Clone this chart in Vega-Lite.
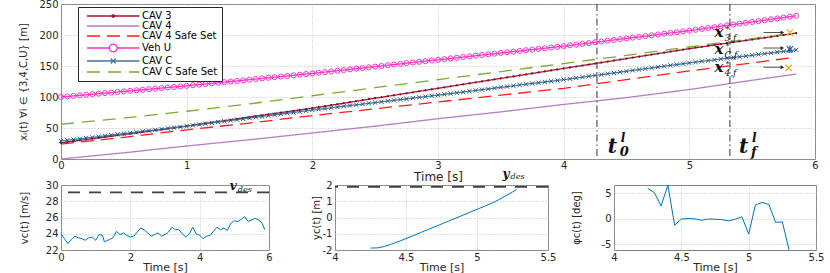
{
"$schema": "https://vega.github.io/schema/vega-lite/v6.json",
"autosize": {"type": "none"},
"padding": {"left": 61, "top": 4, "right": 769, "bottom": 269},
"background": "white",
"config": {
  "view": {"stroke": "#808080", "strokeWidth": 1},
  "axis": {"domain": false, "ticks": false, "grid": true, "gridColor": "#b0b0b0", "gridDash": [1, 2], "gridWidth": 0.8,
    "labelFont": "DejaVu Sans", "labelFontSize": 10, "labelColor": "#262626", "labelFlush": false, "labelOverlap": false, "labelPadding": 3,
    "titleFont": "DejaVu Sans", "titleFontSize": 12, "titleFontWeight": "normal", "titleColor": "#262626"}
},
"datasets": {
  "top": [
{"t":0,"U":100,"C3":26,"CC":29,"A4":0,"S4":24,"SC":56},
{"t":0.05,"U":100.9,"C3":27.4,"CC":30.2},
{"t":0.1,"U":101.8,"C3":28.7,"CC":31.4},
{"t":0.15,"U":102.7,"C3":30.1,"CC":32.6},
{"t":0.2,"U":103.6,"C3":31.4,"CC":33.8},
{"t":0.25,"U":104.5,"C3":32.8,"CC":35},
{"t":0.3,"U":105.4,"C3":34.1,"CC":36.2},
{"t":0.35,"U":106.3,"C3":35.5,"CC":37.4},
{"t":0.4,"U":107.2,"C3":36.8,"CC":38.6},
{"t":0.45,"U":108.1,"C3":38.2,"CC":39.8},
{"t":0.5,"U":109,"C3":39.5,"CC":41,"A4":10,"S4":35,"SC":66},
{"t":0.55,"U":109.9,"C3":40.9,"CC":42.2},
{"t":0.6,"U":110.8,"C3":42.2,"CC":43.4},
{"t":0.65,"U":111.7,"C3":43.6,"CC":44.6},
{"t":0.7,"U":112.6,"C3":44.9,"CC":45.8},
{"t":0.75,"U":113.5,"C3":46.3,"CC":47},
{"t":0.8,"U":114.4,"C3":47.6,"CC":48.2},
{"t":0.85,"U":115.3,"C3":49,"CC":49.4},
{"t":0.9,"U":116.2,"C3":50.3,"CC":50.6},
{"t":0.95,"U":117.1,"C3":51.7,"CC":51.8},
{"t":1,"U":118,"C3":53,"CC":53,"A4":21,"S4":47,"SC":77},
{"t":1.05,"U":119,"C3":54.5,"CC":54.3},
{"t":1.1,"U":120,"C3":55.9,"CC":55.6},
{"t":1.15,"U":121,"C3":57.4,"CC":56.9},
{"t":1.2,"U":122,"C3":58.8,"CC":58.2},
{"t":1.25,"U":123,"C3":60.3,"CC":59.5},
{"t":1.3,"U":124,"C3":61.7,"CC":60.8},
{"t":1.35,"U":125,"C3":63.2,"CC":62.1},
{"t":1.4,"U":126,"C3":64.6,"CC":63.4},
{"t":1.45,"U":127,"C3":66.1,"CC":64.7},
{"t":1.5,"U":128,"C3":67.5,"CC":66,"A4":31,"S4":58,"SC":89},
{"t":1.55,"U":129,"C3":69,"CC":67.3},
{"t":1.6,"U":130,"C3":70.4,"CC":68.6},
{"t":1.65,"U":131,"C3":71.9,"CC":69.9},
{"t":1.7,"U":132,"C3":73.3,"CC":71.2},
{"t":1.75,"U":133,"C3":74.8,"CC":72.5},
{"t":1.8,"U":134,"C3":76.2,"CC":73.8},
{"t":1.85,"U":135,"C3":77.7,"CC":75.1},
{"t":1.9,"U":136,"C3":79.1,"CC":76.4},
{"t":1.95,"U":137,"C3":80.6,"CC":77.7},
{"t":2,"U":138,"C3":82,"CC":79,"A4":42,"S4":70,"SC":102},
{"t":2.05,"U":139.1,"C3":83.6,"CC":80.2},
{"t":2.1,"U":140.2,"C3":85.2,"CC":81.4},
{"t":2.15,"U":141.3,"C3":86.8,"CC":82.6},
{"t":2.2,"U":142.4,"C3":88.4,"CC":83.8},
{"t":2.25,"U":143.5,"C3":90,"CC":85},
{"t":2.3,"U":144.6,"C3":91.6,"CC":86.2},
{"t":2.35,"U":145.7,"C3":93.2,"CC":87.4},
{"t":2.4,"U":146.8,"C3":94.8,"CC":88.6},
{"t":2.45,"U":147.9,"C3":96.4,"CC":89.8},
{"t":2.5,"U":149,"C3":98,"CC":91,"A4":53,"S4":81,"SC":115},
{"t":2.55,"U":150.1,"C3":99.6,"CC":92.2},
{"t":2.6,"U":151.2,"C3":101.2,"CC":93.4},
{"t":2.65,"U":152.3,"C3":102.8,"CC":94.6},
{"t":2.7,"U":153.4,"C3":104.4,"CC":95.8},
{"t":2.75,"U":154.5,"C3":106,"CC":97},
{"t":2.8,"U":155.6,"C3":107.6,"CC":98.2},
{"t":2.85,"U":156.7,"C3":109.2,"CC":99.4},
{"t":2.9,"U":157.8,"C3":110.8,"CC":100.6},
{"t":2.95,"U":158.9,"C3":112.4,"CC":101.8},
{"t":3,"U":160,"C3":114,"CC":103,"A4":65,"S4":92,"SC":128},
{"t":3.05,"U":161.1,"C3":115.6,"CC":104.3},
{"t":3.1,"U":162.2,"C3":117.2,"CC":105.5},
{"t":3.15,"U":163.3,"C3":118.8,"CC":106.8},
{"t":3.2,"U":164.4,"C3":120.4,"CC":108},
{"t":3.25,"U":165.5,"C3":122,"CC":109.3},
{"t":3.3,"U":166.6,"C3":123.6,"CC":110.5},
{"t":3.35,"U":167.7,"C3":125.2,"CC":111.8},
{"t":3.4,"U":168.8,"C3":126.8,"CC":113},
{"t":3.45,"U":169.9,"C3":128.4,"CC":114.3},
{"t":3.5,"U":171,"C3":130,"CC":115.5,"A4":76,"S4":103,"SC":141},
{"t":3.55,"U":172.1,"C3":131.6,"CC":116.8},
{"t":3.6,"U":173.2,"C3":133.2,"CC":118},
{"t":3.65,"U":174.3,"C3":134.8,"CC":119.3},
{"t":3.7,"U":175.4,"C3":136.4,"CC":120.5},
{"t":3.75,"U":176.5,"C3":138,"CC":121.8},
{"t":3.8,"U":177.6,"C3":139.6,"CC":123},
{"t":3.85,"U":178.7,"C3":141.2,"CC":124.3},
{"t":3.9,"U":179.8,"C3":142.8,"CC":125.5},
{"t":3.95,"U":180.9,"C3":144.4,"CC":126.8},
{"t":4,"U":182,"C3":146,"CC":128,"A4":88,"S4":114,"SC":154},
{"t":4.05,"U":183.3,"C3":147.6,"CC":129.4},
{"t":4.1,"U":184.5,"C3":149.2,"CC":130.7},
{"t":4.15,"U":185.8,"C3":150.8,"CC":132.1},
{"t":4.2,"U":187,"C3":152.4,"CC":133.4},
{"t":4.25,"U":188.3,"C3":154,"CC":134.8},
{"t":4.3,"U":189.5,"C3":155.6,"CC":136.1},
{"t":4.35,"U":190.8,"C3":157.2,"CC":137.5},
{"t":4.4,"U":192,"C3":158.8,"CC":138.8},
{"t":4.45,"U":193.3,"C3":160.4,"CC":140.2},
{"t":4.5,"U":194.5,"C3":162,"CC":141.5,"A4":99,"S4":128,"SC":167},
{"t":4.55,"U":195.8,"C3":163.6,"CC":142.9},
{"t":4.6,"U":197,"C3":165.2,"CC":144.2},
{"t":4.65,"U":198.3,"C3":166.8,"CC":145.6},
{"t":4.7,"U":199.5,"C3":168.4,"CC":146.9},
{"t":4.75,"U":200.8,"C3":170,"CC":148.3},
{"t":4.8,"U":202,"C3":171.6,"CC":149.6},
{"t":4.85,"U":203.3,"C3":173.2,"CC":151},
{"t":4.9,"U":204.5,"C3":174.8,"CC":152.3},
{"t":4.95,"U":205.8,"C3":176.4,"CC":153.7},
{"t":5,"U":207,"C3":178,"CC":155,"A4":112,"S4":142,"SC":181},
{"t":5.05,"U":208.4,"C3":179.5,"CC":156.2},
{"t":5.1,"U":209.8,"C3":180.9,"CC":157.5},
{"t":5.15,"U":211.2,"C3":182.4,"CC":158.7},
{"t":5.2,"U":212.6,"C3":183.9,"CC":159.9},
{"t":5.25,"U":214.1,"C3":185.4,"CC":161.2},
{"t":5.3,"U":215.5,"C3":186.8,"CC":162.4},
{"t":5.35,"U":216.9,"C3":188.3,"CC":163.7},
{"t":5.4,"U":218.3,"C3":189.8,"CC":164.9},
{"t":5.45,"U":219.7,"C3":191.2,"CC":166.1},
{"t":5.5,"U":221.1,"C3":192.7,"CC":167.4,"A4":127,"S4":155,"SC":194},
{"t":5.55,"U":222.5,"C3":194.2,"CC":168.6},
{"t":5.6,"U":223.9,"C3":195.6,"CC":169.9},
{"t":5.65,"U":225.3,"C3":197.1,"CC":171.1},
{"t":5.7,"U":226.7,"C3":198.6,"CC":172.3},
{"t":5.75,"U":228.2,"C3":200.1,"CC":173.6},
{"t":5.8,"U":229.6,"C3":201.5,"CC":174.8,"S4":163,"SC":202},
{"t":5.85,"U":231,"C3":203,"CC":176,"A4":137}
  ],
  "vc": [
{"t":0,"v":24.0},{"t":0.1,"v":23.4},{"t":0.2,"v":22.8},{"t":0.3,"v":23.3},{"t":0.4,"v":23.7},{"t":0.5,"v":23.5},
{"t":0.6,"v":23.4},{"t":0.7,"v":23.2},{"t":0.8,"v":23.5},{"t":0.9,"v":23.6},{"t":1.0,"v":23.2},{"t":1.1,"v":23.9},
{"t":1.2,"v":23.8},{"t":1.25,"v":23.0},{"t":1.4,"v":23.3},{"t":1.5,"v":23.5},{"t":1.6,"v":24.3},{"t":1.7,"v":23.9},
{"t":1.8,"v":24.1},{"t":1.9,"v":23.8},{"t":2.0,"v":23.6},{"t":2.1,"v":23.7},{"t":2.2,"v":24.2},{"t":2.3,"v":24.7},
{"t":2.4,"v":24.5},{"t":2.5,"v":24.1},{"t":2.6,"v":23.7},{"t":2.7,"v":23.9},{"t":2.8,"v":24.1},{"t":2.9,"v":23.7},
{"t":3.0,"v":23.9},{"t":3.1,"v":24.2},{"t":3.2,"v":24.8},{"t":3.3,"v":24.5},{"t":3.4,"v":24.5},{"t":3.5,"v":24.0},
{"t":3.6,"v":23.6},{"t":3.7,"v":24.0},{"t":3.8,"v":24.8},{"t":3.9,"v":24.0},{"t":4.0,"v":23.8},{"t":4.1,"v":23.4},
{"t":4.2,"v":23.7},{"t":4.3,"v":23.8},{"t":4.4,"v":24.3},{"t":4.5,"v":24.8},{"t":4.6,"v":24.5},{"t":4.7,"v":24.7},
{"t":4.8,"v":24.4},{"t":4.9,"v":25.3},{"t":5.0,"v":25.6},{"t":5.1,"v":25.5},{"t":5.2,"v":25.8},{"t":5.3,"v":26.1},
{"t":5.4,"v":25.5},{"t":5.5,"v":25.7},{"t":5.6,"v":25.9},{"t":5.7,"v":25.7},{"t":5.8,"v":25.3},{"t":5.88,"v":24.5}
  ],
  "yc": [
{"t":4.25,"y":-1.88},{"t":4.3,"y":-1.87},{"t":4.35,"y":-1.78},{"t":4.4,"y":-1.63},{"t":4.45,"y":-1.47},{"t":4.5,"y":-1.3},
{"t":4.55,"y":-1.12},{"t":4.6,"y":-0.94},{"t":4.65,"y":-0.76},{"t":4.7,"y":-0.58},{"t":4.75,"y":-0.4},{"t":4.8,"y":-0.22},
{"t":4.85,"y":-0.04},{"t":4.9,"y":0.14},{"t":4.95,"y":0.32},{"t":5.0,"y":0.5},{"t":5.05,"y":0.68},{"t":5.1,"y":0.86},
{"t":5.15,"y":1.08},{"t":5.2,"y":1.32},{"t":5.25,"y":1.57},{"t":5.28,"y":1.72}
  ],
  "phi": [
{"t":4.25,"p":5.95},{"t":4.3,"p":5.1},{"t":4.35,"p":2.5},{"t":4.4,"p":6.6},{"t":4.45,"p":-1.24},{"t":4.5,"p":-0.05},
{"t":4.55,"p":0.05},{"t":4.6,"p":0},{"t":4.65,"p":-0.3},{"t":4.7,"p":-0.05},{"t":4.75,"p":-0.1},{"t":4.8,"p":-0.15},
{"t":4.85,"p":-0.4},{"t":4.9,"p":-0.1},{"t":4.95,"p":0.4},{"t":5.0,"p":-3.0},{"t":5.05,"p":2.7},{"t":5.1,"p":3.2},
{"t":5.15,"p":2.8},{"t":5.2,"p":-0.7},{"t":5.25,"p":-0.6},{"t":5.3,"p":-6.1}
  ]
},
"spacing": 26,
"bounds": "flush",
"vconcat": [
{
  "width": 754, "height": 155,
  "resolve": {"axis": {"x": "independent", "y": "independent"}},
  "layer": [
    {
      "data": {"name": "top"},
      "transform": [{"fold": ["C3", "A4", "S4", "U", "CC", "SC"], "as": ["key", "value"]}, {"filter": "isValid(datum.value)"}],
      "mark": {"type": "line", "strokeWidth": 1.3},
      "encoding": {
        "x": {"field": "t", "type": "quantitative", "scale": {"domain": [0, 6], "nice": false},
          "axis": {"title": "Time [s]", "titlePadding": 1, "labelPadding": 1, "values": [0, 1, 2, 3, 4, 5, 6], "labelExpr": "'' + datum.value"}},
        "y": {"field": "value", "type": "quantitative", "scale": {"domain": [0, 250], "nice": false},
          "axis": {"title": "xᵢ(t) ∀i ∈ {3,4,C,U} [m]", "titleFontSize": 10, "titlePadding": 10, "values": [0, 50, 100, 150, 200, 250], "labelExpr": "'' + datum.value"}},
        "color": {"field": "key", "type": "nominal",
          "scale": {"domain": ["C3", "A4", "S4", "U", "CC", "SC"], "range": ["#a2142f", "#b57cc9", "#ff1a1a", "#ff33cc", "#4a77a0", "#77ac30"]},
          "legend": {"title": null, "orient": "none", "legendX": 17, "legendY": 3, "fillColor": "white", "strokeColor": "#262626",
            "padding": 4, "rowPadding": 0, "labelFont": "DejaVu Sans", "labelFontSize": 10, "labelColor": "#000",
            "symbolSize": 49, "symbolStrokeWidth": 1.3, "labelOffset": 50,
            "labelExpr": "datum.label === 'C3' ? 'CAV 3' : datum.label === 'A4' ? 'CAV 4' : datum.label === 'S4' ? 'CAV 4 Safe Set' : datum.label === 'U' ? 'Veh U' : datum.label === 'CC' ? 'CAV C' : 'CAV C Safe Set'",
            "encode": {"symbols": {"update": {"shape": {"signal": "datum.value === 'C3' ? 'M0,0L15,0M7.85,0A0.35,0.35 0 1,1 7.15,0A0.35,0.35 0 1,1 7.85,0' : datum.value === 'U' ? 'M0,0L6.4,0M8.6,0L15,0M8.6,0A1.1,1.1 0 1,1 6.4,0A1.1,1.1 0 1,1 8.6,0' : datum.value === 'CC' ? 'M0,0L15,0M6.8,-0.7L8.2,0.7M6.8,0.7L8.2,-0.7' : 'M0,0L15,0'"}}}}}},
        "strokeDash": {"field": "key", "type": "nominal",
          "scale": {"domain": ["C3", "A4", "S4", "U", "CC", "SC"], "range": [[1, 0], [1, 0], [13, 7], [1, 0], [1, 0], [13, 8]]},
          "legend": {"title": null, "orient": "none", "legendX": 17, "legendY": 3, "fillColor": "white", "strokeColor": "#262626",
            "padding": 4, "rowPadding": 0, "labelFont": "DejaVu Sans", "labelFontSize": 10, "labelColor": "#000",
            "symbolSize": 49, "symbolStrokeWidth": 1.3, "labelOffset": 50,
            "labelExpr": "datum.label === 'C3' ? 'CAV 3' : datum.label === 'A4' ? 'CAV 4' : datum.label === 'S4' ? 'CAV 4 Safe Set' : datum.label === 'U' ? 'Veh U' : datum.label === 'CC' ? 'CAV C' : 'CAV C Safe Set'",
            "encode": {"symbols": {"update": {"shape": {"signal": "datum.value === 'C3' ? 'M0,0L15,0M7.85,0A0.35,0.35 0 1,1 7.15,0A0.35,0.35 0 1,1 7.85,0' : datum.value === 'U' ? 'M0,0L6.4,0M8.6,0L15,0M8.6,0A1.1,1.1 0 1,1 6.4,0A1.1,1.1 0 1,1 8.6,0' : datum.value === 'CC' ? 'M0,0L15,0M6.8,-0.7L8.2,0.7M6.8,0.7L8.2,-0.7' : 'M0,0L15,0'"}}}}}}
      }
    },
    {
      "data": {"name": "top"},
      "mark": {"type": "point", "shape": "circle", "filled": false, "size": 26, "strokeWidth": 1, "color": "#ff33cc", "opacity": 1},
      "encoding": {
        "x": {"field": "t", "type": "quantitative", "axis": {"orient": "top", "title": null, "labels": false, "gridColor": "#cccccc",
          "values": [0,0.1,0.2,0.3,0.4,0.5,0.6,0.7,0.8,0.9,1,1.1,1.2,1.3,1.4,1.5,1.6,1.7,1.8,1.9,2,2.1,2.2,2.3,2.4,2.5,2.6,2.7,2.8,2.9,3,3.1,3.2,3.3,3.4,3.5,3.6,3.7,3.8,3.9,4,4.1,4.2,4.3,4.4,4.5,4.6,4.7,4.8,4.9,5,5.1,5.2,5.3,5.4,5.5,5.6,5.7,5.8,5.9,6]}},
        "y": {"field": "U", "type": "quantitative", "axis": {"orient": "right", "title": null, "labels": false, "gridColor": "#cccccc",
          "values": [0,10,20,30,40,50,60,70,80,90,100,110,120,130,140,150,160,170,180,190,200,210,220,230,240,250]}}
      }
    },
    {
      "data": {"name": "top"},
      "mark": {"type": "point", "shape": "circle", "filled": true, "size": 5, "color": "#7a0f22", "opacity": 1},
      "encoding": {"x": {"field": "t", "type": "quantitative", "axis": null}, "y": {"field": "C3", "type": "quantitative", "axis": null}}
    },
    {
      "data": {"name": "top"},
      "mark": {"type": "point", "shape": "M-1,-1L1,1M-1,1L1,-1", "filled": false, "size": 18, "strokeWidth": 1, "color": "#2e5a85", "opacity": 1},
      "encoding": {"x": {"field": "t", "type": "quantitative", "axis": null}, "y": {"field": "CC", "type": "quantitative", "axis": null}}
    },
    {
      "data": {"values": [{"t": 4.265}, {"t": 5.323}]},
      "mark": {"type": "rule", "color": "#333333", "strokeWidth": 1, "strokeDash": [7, 3, 1.5, 3]},
      "encoding": {"x": {"field": "t", "type": "quantitative", "axis": null}}
    },
    {
      "data": {"values": [{"t": 4.35, "v": 9.7, "s": "t"}, {"t": 5.395, "v": 9.7, "s": "t"}]},
      "mark": {"type": "text", "font": "DejaVu Serif", "fontStyle": "italic", "fontWeight": "bold", "fontSize": 20, "align": "left", "baseline": "alphabetic", "color": "#111"},
      "encoding": {"x": {"field": "t", "type": "quantitative", "axis": null}, "y": {"field": "v", "type": "quantitative", "axis": null}, "text": {"field": "s"}}
    },
    {
      "data": {"values": [{"t": 4.35, "v": 9.7, "s": "l"}, {"t": 5.395, "v": 9.7, "s": "l"}]},
      "mark": {"type": "text", "font": "DejaVu Serif", "fontStyle": "italic", "fontWeight": "bold", "fontSize": 12, "align": "left", "baseline": "alphabetic", "dx": 13, "dy": -11, "color": "#111"},
      "encoding": {"x": {"field": "t", "type": "quantitative", "axis": null}, "y": {"field": "v", "type": "quantitative", "axis": null}, "text": {"field": "s"}}
    },
    {
      "data": {"values": [{"t": 4.35, "v": 9.7, "s": "0"}, {"t": 5.395, "v": 9.7, "s": "f"}]},
      "mark": {"type": "text", "font": "DejaVu Serif", "fontStyle": "italic", "fontWeight": "bold", "fontSize": 13, "align": "left", "baseline": "alphabetic", "dx": 12, "dy": 3, "color": "#111"},
      "encoding": {"x": {"field": "t", "type": "quantitative", "axis": null}, "y": {"field": "v", "type": "quantitative", "axis": null}, "text": {"field": "s"}}
    },
    {
      "data": {"values": [{"t": 5.2, "v": 196.8, "s": "x"}, {"t": 5.2, "v": 169, "s": "x"}, {"t": 5.2, "v": 140, "s": "x"}]},
      "mark": {"type": "text", "font": "DejaVu Serif", "fontStyle": "italic", "fontWeight": "bold", "fontSize": 15, "align": "left", "baseline": "alphabetic", "color": "#111"},
      "encoding": {"x": {"field": "t", "type": "quantitative", "axis": null}, "y": {"field": "v", "type": "quantitative", "axis": null}, "text": {"field": "s"}}
    },
    {
      "data": {"values": [{"t": 5.2, "v": 196.8, "s": "*"}, {"t": 5.2, "v": 169, "s": "*"}, {"t": 5.2, "v": 140, "s": "*"}]},
      "mark": {"type": "text", "font": "DejaVu Serif", "fontSize": 8, "align": "left", "baseline": "alphabetic", "dx": 11, "dy": -5, "color": "#111"},
      "encoding": {"x": {"field": "t", "type": "quantitative", "axis": null}, "y": {"field": "v", "type": "quantitative", "axis": null}, "text": {"field": "s"}}
    },
    {
      "data": {"values": [{"t": 5.2, "v": 196.8, "s": "3,f"}, {"t": 5.2, "v": 169, "s": "C,f"}, {"t": 5.2, "v": 140, "s": "4,f"}]},
      "mark": {"type": "text", "font": "DejaVu Serif", "fontStyle": "italic", "fontSize": 9, "align": "left", "baseline": "alphabetic", "dx": 10, "dy": 4, "color": "#111"},
      "encoding": {"x": {"field": "t", "type": "quantitative", "axis": null}, "y": {"field": "v", "type": "quantitative", "axis": null}, "text": {"field": "s"}}
    },
    {
      "data": {"values": [{"t": 5.59, "t2": 5.74, "v": 204}, {"t": 5.59, "t2": 5.74, "v": 179}, {"t": 5.59, "t2": 5.74, "v": 148}]},
      "mark": {"type": "rule", "color": "#222", "strokeWidth": 0.8},
      "encoding": {"x": {"field": "t", "type": "quantitative", "axis": null}, "x2": {"field": "t2"}, "y": {"field": "v", "type": "quantitative", "axis": null}}
    },
    {
      "data": {"values": [{"t2": 5.74, "v": 204}, {"t2": 5.74, "v": 179}, {"t2": 5.74, "v": 148}]},
      "mark": {"type": "point", "shape": "triangle-right", "filled": true, "size": 16, "color": "#222", "opacity": 1},
      "encoding": {"x": {"field": "t2", "type": "quantitative", "axis": null}, "y": {"field": "v", "type": "quantitative", "axis": null}}
    },
    {
      "data": {"values": [{"t": 5.8, "v": 204}, {"t": 5.79, "v": 147}]},
      "mark": {"type": "point", "shape": "M-1,-1L1,1M-1,1L1,-1", "filled": false, "size": 40, "strokeWidth": 1.3, "color": "#edb120", "opacity": 1},
      "encoding": {"x": {"field": "t", "type": "quantitative", "axis": null}, "y": {"field": "v", "type": "quantitative", "axis": null}}
    },
    {
      "data": {"values": [{"t": 5.8, "v": 177}]},
      "mark": {"type": "point", "shape": "M-1,-1L1,1M-1,1L1,-1M0,-1.2L0,1.2", "filled": false, "size": 40, "strokeWidth": 1.2, "color": "#2a4fd0", "opacity": 1},
      "encoding": {"x": {"field": "t", "type": "quantitative", "axis": null}, "y": {"field": "v", "type": "quantitative", "axis": null}}
    }
  ]
},
{
  "spacing": 66,
  "bounds": "flush",
  "hconcat": [
    {
      "width": 208, "height": 65,
      "resolve": {"axis": {"x": "independent", "y": "independent"}},
      "layer": [
        {
          "data": {"name": "vc"},
          "mark": {"type": "line", "color": "#0072bd", "strokeWidth": 1},
          "encoding": {
            "x": {"field": "t", "type": "quantitative", "scale": {"domain": [0, 6], "nice": false},
              "axis": {"title": "Time [s]", "titleFontSize": 11, "titlePadding": -1, "labelPadding": 2, "values": [0, 2, 4, 6], "labelExpr": "'' + datum.value"}},
            "y": {"field": "v", "type": "quantitative", "scale": {"domain": [22, 30], "nice": false},
              "axis": {"title": "vᴄ(t) [m/s]", "titleFontSize": 10, "titlePadding": 16, "values": [22, 24, 26, 28, 30], "labelExpr": "'' + datum.value"}}
          }
        },
        {
          "data": {"values": [{"v": 29.1}]},
          "mark": {"type": "rule", "color": "#404040", "strokeWidth": 1.8, "strokeDash": [12, 9]},
          "encoding": {"y": {"field": "v", "type": "quantitative", "axis": null}}
        },
        {
          "data": {"values": [{"t": 4.87, "v": 29.38, "s": "v"}]},
          "mark": {"type": "text", "font": "DejaVu Serif", "fontStyle": "italic", "fontWeight": "bold", "fontSize": 12, "align": "left", "baseline": "alphabetic", "color": "#111"},
          "encoding": {
            "x": {"field": "t", "type": "quantitative", "axis": {"orient": "top", "title": null, "labels": false, "gridColor": "#cccccc",
              "values": [0,0.2,0.4,0.6,0.8,1,1.2,1.4,1.6,1.8,2,2.2,2.4,2.6,2.8,3,3.2,3.4,3.6,3.8,4,4.2,4.4,4.6,4.8,5,5.2,5.4,5.6,5.8,6]}},
            "y": {"field": "v", "type": "quantitative", "axis": {"orient": "right", "title": null, "labels": false, "gridColor": "#cccccc",
              "values": [22,22.5,23,23.5,24,24.5,25,25.5,26,26.5,27,27.5,28,28.5,29,29.5,30]}},
            "text": {"field": "s"}}
        },
        {
          "data": {"values": [{"t": 4.87, "v": 29.38, "s": "des"}]},
          "mark": {"type": "text", "font": "DejaVu Serif", "fontStyle": "italic", "fontSize": 8, "align": "left", "baseline": "alphabetic", "dx": 8, "dy": 2, "color": "#111"},
          "encoding": {"x": {"field": "t", "type": "quantitative", "axis": null}, "y": {"field": "v", "type": "quantitative", "axis": null}, "text": {"field": "s"}}
        }
      ]
    },
    {
      "width": 213, "height": 65,
      "resolve": {"axis": {"x": "independent", "y": "independent"}},
      "layer": [
        {
          "data": {"name": "yc"},
          "mark": {"type": "line", "color": "#0072bd", "strokeWidth": 1},
          "encoding": {
            "x": {"field": "t", "type": "quantitative", "scale": {"domain": [4, 5.5], "nice": false},
              "axis": {"title": "Time [s]", "titleFontSize": 11, "titlePadding": -1, "labelPadding": 2, "values": [4, 4.5, 5, 5.5], "labelExpr": "'' + datum.value"}},
            "y": {"field": "y", "type": "quantitative", "scale": {"domain": [-2, 2], "nice": false},
              "axis": {"title": "yᴄ(t) [m]", "titleFontSize": 10, "titlePadding": 1, "values": [-2, -1, 0, 1, 2], "labelExpr": "'' + datum.value"}}
          }
        },
        {
          "data": {"values": [{"y": 1.88}]},
          "mark": {"type": "rule", "color": "#404040", "strokeWidth": 1.8, "strokeDash": [12, 9]},
          "encoding": {"y": {"field": "y", "type": "quantitative", "axis": null}}
        },
        {
          "data": {"values": [{"t": 5.18, "y": 2.45, "s": "y"}]},
          "mark": {"type": "text", "font": "DejaVu Serif", "fontStyle": "italic", "fontWeight": "bold", "fontSize": 12, "align": "left", "baseline": "alphabetic", "color": "#111"},
          "encoding": {
            "x": {"field": "t", "type": "quantitative", "axis": {"orient": "top", "title": null, "labels": false, "gridColor": "#cccccc",
              "values": [4,4.05,4.1,4.15,4.2,4.25,4.3,4.35,4.4,4.45,4.5,4.55,4.6,4.65,4.7,4.75,4.8,4.85,4.9,4.95,5,5.05,5.1,5.15,5.2,5.25,5.3,5.35,5.4,5.45,5.5]}},
            "y": {"field": "y", "type": "quantitative", "axis": {"orient": "right", "title": null, "labels": false, "gridColor": "#cccccc",
              "values": [-2,-1.8,-1.6,-1.4,-1.2,-1,-0.8,-0.6,-0.4,-0.2,0,0.2,0.4,0.6,0.8,1,1.2,1.4,1.6,1.8,2]}},
            "text": {"field": "s"}}
        },
        {
          "data": {"values": [{"t": 5.18, "y": 2.45, "s": "des"}]},
          "mark": {"type": "text", "font": "DejaVu Serif", "fontStyle": "italic", "fontSize": 8, "align": "left", "baseline": "alphabetic", "dx": 8, "dy": 1, "color": "#111"},
          "encoding": {"x": {"field": "t", "type": "quantitative", "axis": null}, "y": {"field": "y", "type": "quantitative", "axis": null}, "text": {"field": "s"}}
        }
      ]
    },
    {
      "width": 202, "height": 65,
      "resolve": {"axis": {"x": "independent", "y": "independent"}},
      "layer": [
        {
          "data": {"name": "phi"},
          "mark": {"type": "line", "color": "#0072bd", "strokeWidth": 1, "clip": true},
          "encoding": {
            "x": {"field": "t", "type": "quantitative", "scale": {"domain": [4, 5.5], "nice": false},
              "axis": {"title": "Time [s]", "titleFontSize": 11, "titlePadding": -1, "labelPadding": 2, "values": [4, 4.5, 5, 5.5], "labelExpr": "'' + datum.value"}},
            "y": {"field": "p", "type": "quantitative", "scale": {"domain": [-6.1, 6.6], "nice": false},
              "axis": {"title": "φᴄ(t) [deg]", "titleFontSize": 10, "titlePadding": 20, "values": [-5, 0, 5], "labelExpr": "'' + datum.value"}}
          }
        },
        {
          "data": {"name": "phi"},
          "mark": {"type": "line", "strokeOpacity": 0, "clip": true},
          "encoding": {
            "x": {"field": "t", "type": "quantitative", "axis": {"orient": "top", "title": null, "labels": false, "gridColor": "#cccccc",
              "values": [4,4.05,4.1,4.15,4.2,4.25,4.3,4.35,4.4,4.45,4.5,4.55,4.6,4.65,4.7,4.75,4.8,4.85,4.9,4.95,5,5.05,5.1,5.15,5.2,5.25,5.3,5.35,5.4,5.45,5.5]}},
            "y": {"field": "p", "type": "quantitative", "axis": {"orient": "right", "title": null, "labels": false, "gridColor": "#cccccc",
              "values": [-6,-5,-4,-3,-2,-1,0,1,2,3,4,5,6]}}
          }
        }
      ]
    }
  ]
}
]
}
